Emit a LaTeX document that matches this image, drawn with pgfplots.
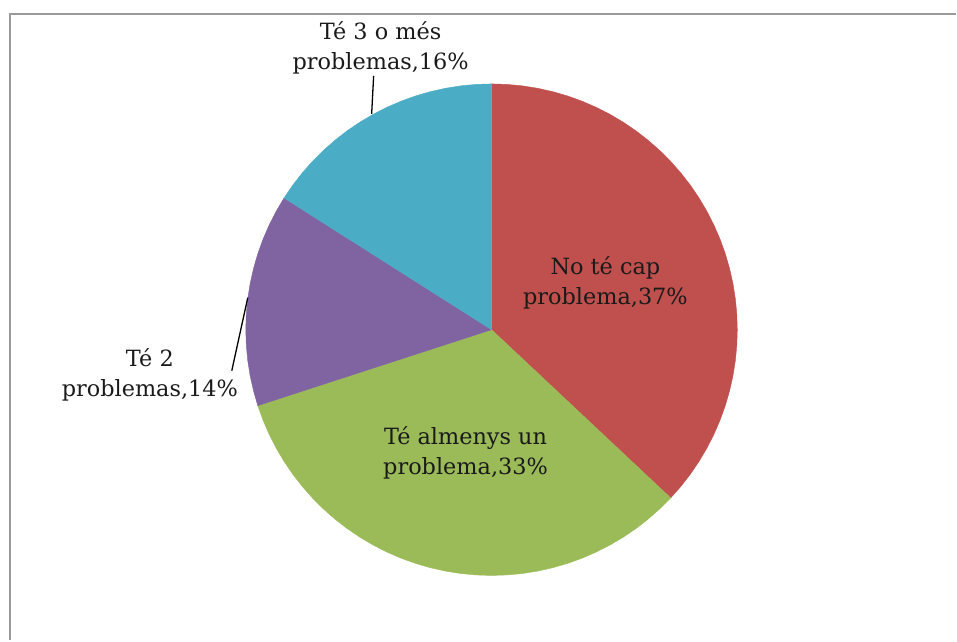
\documentclass[border=0pt]{standalone}
\usepackage{fontspec}
\setmainfont{DejaVu Serif}
\usepackage{pgfplots}
\pgfplotsset{compat=1.18}
\definecolor{cRed}{HTML}{C0504D}
\definecolor{cGreen}{HTML}{9BBB59}
\definecolor{cPurple}{HTML}{8064A2}
\definecolor{cBlue}{HTML}{4BACC6}
\definecolor{cFrame}{HTML}{9A9A9A}
\definecolor{cText}{HTML}{1A1A1A}
\begin{document}
\begin{tikzpicture}
\begin{axis}[
  width=957pt, height=641pt, scale only axis,
  xmin=-2, xmax=1.89024, ymin=-1.26423, ymax=1.34146,
  hide axis, clip=false,
]
\path (rel axis cs:0,0) rectangle (rel axis cs:1,1);
% frame (top and left edges visible)
\draw[cFrame, line width=1.8pt] (axis cs:-1.9593,-1.26423) -- (axis cs:-1.9593,1.28455) -- (axis cs:1.89024,1.28455);
% No te cap problema 37%
\addplot[fill=cRed, draw=cRed, line width=0.4pt, data cs=polar] coordinates {
(0,0) (90,1) (86.4,1) (82.8,1) (79.2,1) (75.6,1) (72,1) (68.4,1) (64.8,1) (61.2,1) (57.6,1)
(54,1) (50.4,1) (46.8,1) (43.2,1) (39.6,1) (36,1) (32.4,1) (28.8,1) (25.2,1) (21.6,1)
(18,1) (14.4,1) (10.8,1) (7.2,1) (3.6,1) (0,1) (-3.6,1) (-7.2,1) (-10.8,1) (-14.4,1)
(-18,1) (-21.6,1) (-25.2,1) (-28.8,1) (-32.4,1) (-36,1) (-39.6,1) (-43.2,1)
} -- cycle;
% Te almenys un problema 33%
\addplot[fill=cGreen, draw=cGreen, line width=0.4pt, data cs=polar] coordinates {
(0,0) (-43.2,1) (-46.8,1) (-50.4,1) (-54,1) (-57.6,1) (-61.2,1) (-64.8,1) (-68.4,1) (-72,1)
(-75.6,1) (-79.2,1) (-82.8,1) (-86.4,1) (-90,1) (-93.6,1) (-97.2,1) (-100.8,1) (-104.4,1)
(-108,1) (-111.6,1) (-115.2,1) (-118.8,1) (-122.4,1) (-126,1) (-129.6,1) (-133.2,1)
(-136.8,1) (-140.4,1) (-144,1) (-147.6,1) (-151.2,1) (-154.8,1) (-158.4,1) (-162,1)
} -- cycle;
% Te 2 problemes 14%
\addplot[fill=cPurple, draw=cPurple, line width=0.4pt, data cs=polar] coordinates {
(0,0) (-162,1) (-165.6,1) (-169.2,1) (-172.8,1) (-176.4,1) (-180,1) (-183.6,1) (-187.2,1)
(-190.8,1) (-194.4,1) (-198,1) (-201.6,1) (-205.2,1) (-208.8,1) (-212.4,1)
} -- cycle;
% Te 3 o mes problemes 16%
\addplot[fill=cBlue, draw=cBlue, line width=0.4pt, data cs=polar] coordinates {
(0,0) (-212.4,1) (-216,1) (-219.6,1) (-223.2,1) (-226.8,1) (-230.4,1) (-234,1) (-237.6,1)
(-241.2,1) (-244.8,1) (-248.4,1) (-252,1) (-255.6,1) (-259.2,1) (-262.8,1) (-266.4,1) (-270,1)
} -- cycle;
% leader lines
\draw[black, line width=1.3pt] (axis cs:-1.0569,-0.1667) -- (axis cs:-0.9919,0.1301);
\draw[black, line width=1.3pt] (axis cs:-0.4797,1.0325) -- (axis cs:-0.4878,0.8780);
% labels
\tikzset{lab/.style={align=center, inner sep=0pt, text=cText, font=\fontsize{22.4}{30}\selectfont}}
\node[lab] at (axis cs:0.4634,0.1911) {No té cap\\problema,37\%};
\node[lab] at (axis cs:-0.1057,-0.5020) {Té almenys un\\problema,33\%};
\node[lab] at (axis cs:-1.3902,-0.1829) {Té 2\\problemas,14\%};
\node[lab] at (axis cs:-0.4512,1.1484) {Té 3 o més\\problemas,16\%};
\end{axis}
\end{tikzpicture}
\end{document}
